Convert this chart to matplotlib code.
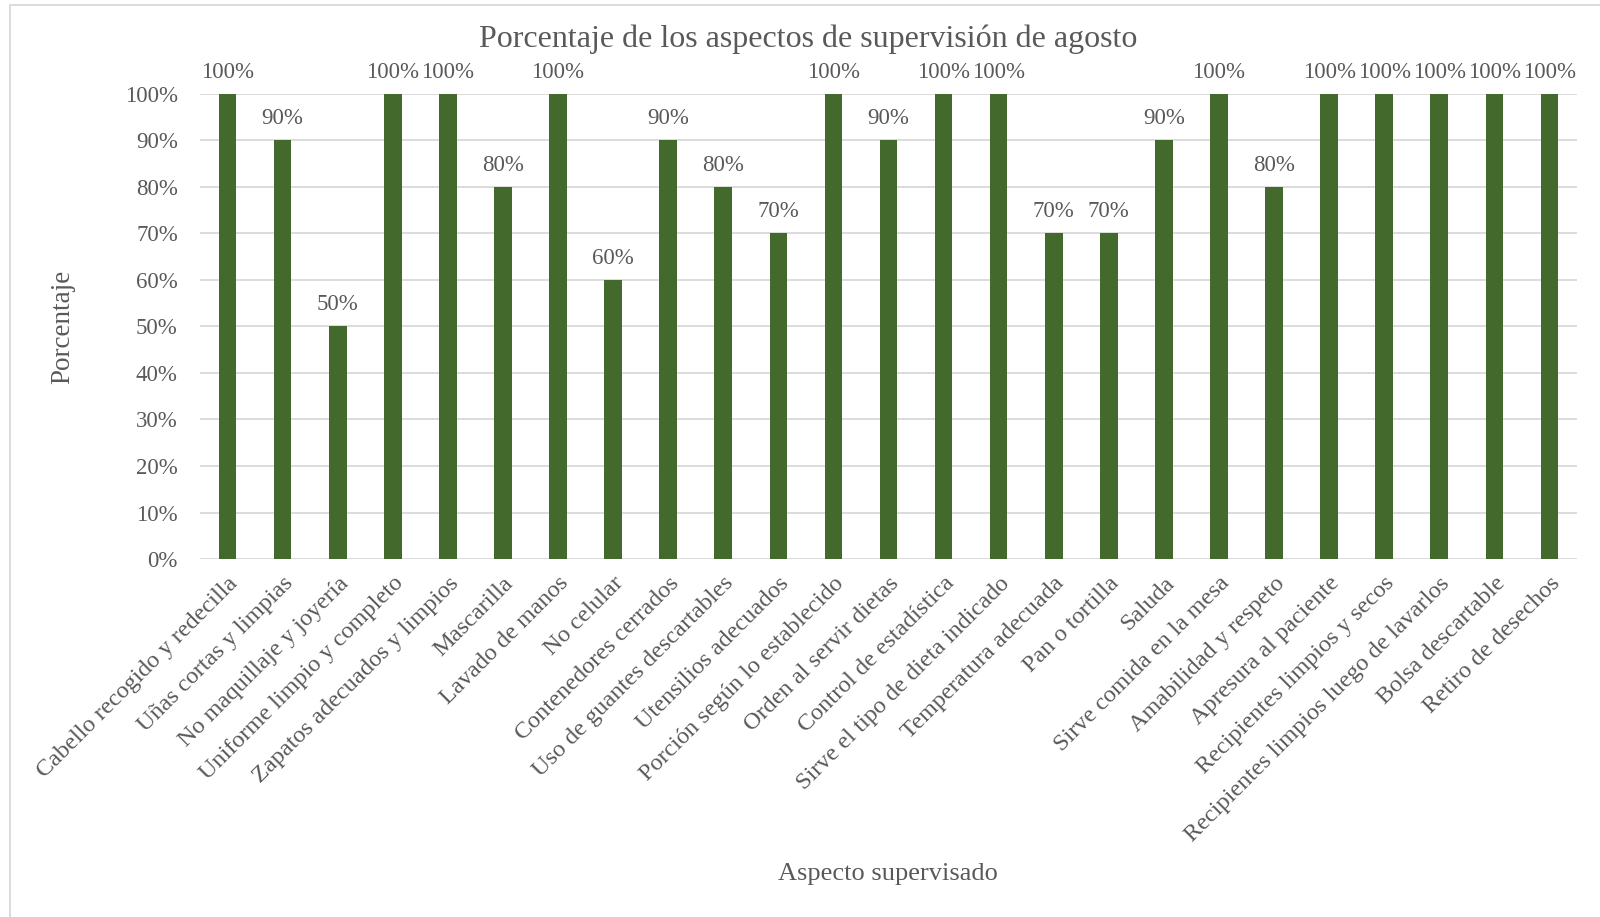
import matplotlib.pyplot as plt
from matplotlib.patches import Rectangle

aspectos = [
    'Cabello recogido y redecilla', 'Uñas cortas y limpias', 'No maquillaje y joyería',
    'Uniforme limpio y completo', 'Zapatos adecuados y limpios', 'Mascarilla',
    'Lavado de manos', 'No celular', 'Contenedores cerrados',
    'Uso de guantes descartables', 'Utensilios adecuados', 'Porción según lo establecido',
    'Orden al servir dietas', 'Control de estadística', 'Sirve el tipo de dieta indicado',
    'Temperatura adecuada', 'Pan o tortilla', 'Saluda', 'Sirve comida en la mesa',
    'Amabilidad y respeto', 'Apresura al paciente', 'Recipientes limpios y secos',
    'Recipientes limpios luego de lavarlos', 'Bolsa descartable', 'Retiro de desechos',
]
porcentajes = [100, 90, 50, 100, 100, 80, 100, 60, 90, 80, 70, 100, 90, 100, 100,
               70, 70, 90, 100, 80, 100, 100, 100, 100, 100]
y_ticks = list(range(0, 101, 10))

gris = '#595959'
verde = '#44692C'
plt.rcParams['font.family'] = ['Liberation Serif', 'DejaVu Serif']

fig = plt.figure(figsize=(16, 9.17), dpi=100)
ax = fig.add_axes([0.125, 0.3904, 0.8606, 0.5071])

x = list(range(len(aspectos)))
bars = ax.bar(x, porcentajes, width=0.32, color=verde, zorder=3)
for xi, v in zip(x, porcentajes):
    ax.annotate('{}%'.format(v), (xi, v), xytext=(0, 15.5), textcoords='offset points',
                ha='center', va='center', fontsize=16.5, color=gris)

ax.set_xlim(-0.5, len(aspectos) - 0.5)
ax.set_ylim(0, 100)
ax.set_yticks(y_ticks)
ax.set_yticklabels(['{}%'.format(t) for t in y_ticks], fontsize=16.5, color=gris)
ax.set_xticks(x)
ax.set_xticklabels(aspectos, rotation=45, ha='right', va='top', rotation_mode='anchor',
                   fontsize=17.5, color=gris)
ax.tick_params(axis='both', length=0)
ax.tick_params(axis='y', pad=16)
ax.tick_params(axis='x', pad=10)
ax.yaxis.grid(True, color='#D9D9D9', linewidth=1.3, zorder=0)
ax.set_axisbelow(True)
for s in ax.spines.values():
    s.set_visible(False)

fig.text(0.505, 0.957, 'Porcentaje de los aspectos de supervisión de agosto',
         ha='center', va='center', fontsize=23, color=gris)
fig.text(0.039, 0.643, 'Porcentaje', rotation=90, ha='center', va='center',
         fontsize=19.5, color=gris)
fig.text(0.555, 0.047, 'Aspecto supervisado', ha='center', va='center',
         fontsize=19, color=gris)

fig.patches.append(Rectangle((10 / 1600, -0.01), 1.0, 1 - 4.5 / 917 + 0.01,
                             transform=fig.transFigure, fill=False,
                             edgecolor='#D9D9D9', linewidth=1.3))

fig.savefig('out.png', dpi=100, facecolor='white')
